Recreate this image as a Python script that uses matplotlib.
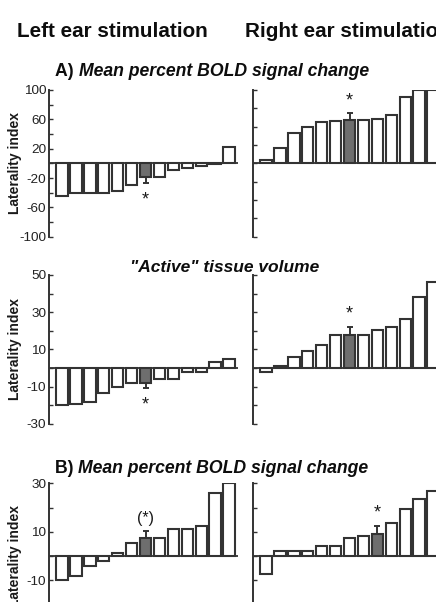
import matplotlib
matplotlib.use('Agg')
import matplotlib.pyplot as plt

plt.rcParams['font.family'] = ['Liberation Sans', 'DejaVu Sans']

# ---------------- data ----------------
subjects = list(range(1, 14))

# A) Mean percent BOLD signal change
a_left = [-45, -40, -40, -40, -38, -30, -19, -19, -9, -6, -4, -1, 22]
a_right = [5, 21, 42, 50, 56, 58, 59, 59, 60, 66, 91, 100, 100]
a_left_gray, a_right_gray = 6, 6
a_left_err, a_right_err = 8, 9
a_left_mark, a_right_mark = "*", "*"
a_ylim = (-100, 100)
a_ticklabels = [-100, -60, -20, 20, 60, 100]
a_minor = [-80, -40, 0, 40, 80]
a_right_ticks = [-100, -75, -50, -25, 0, 25, 50, 75, 100]

# "Active" tissue volume
v_left = [-20, -19, -18.2, -13.4, -10.2, -8, -8, -5.9, -5.9, -2.1, -2.1, 3.5, 5]
v_right = [-2.3, 1.2, 6, 9.3, 12.3, 18, 18, 18, 20.4, 22, 26.3, 38.4, 46]
v_left_gray, v_right_gray = 6, 6
v_left_err, v_right_err = 2.7, 4.3
v_left_mark, v_right_mark = "*", "*"
v_ylim = (-30, 50)
v_ticklabels = [-30, -10, 10, 30, 50]
v_minor = [-20, 0, 20, 40]
v_right_ticks = [-30, -20, -10, 0, 10, 20, 30, 40, 50]

# B) Mean percent BOLD signal change
b_left = [-9.8, -8.4, -4.3, -2.3, 1.1, 5.2, 7.2, 7.2, 11.3, 11.3, 12.2, 25.8, 30]
b_right = [-7.5, 1.9, 1.9, 1.9, 4.1, 4.1, 7.3, 8.1, 9.1, 13.4, 19.5, 23.6, 26.7]
b_left_gray, b_right_gray = 6, 8
b_left_err, b_right_err = 3, 3.4
b_left_mark, b_right_mark = "(*)", "*"
b_ylim = (-30, 30)
b_ticklabels = [-30, -10, 10, 30]
b_minor = [-20, 0, 20]
b_right_ticks = [-30, -20, -10, 0, 10, 20, 30]

header_left = "Left ear stimulation"
header_right = "Right ear stimulation"
ylabel = "Laterality index"

# ---------------- figure ----------------
W, H = 436, 602
fig = plt.figure(figsize=(W / 100, H / 100), dpi=100)

EDGE = '#333333'
GRAY = '#6e6e6e'


def px_axes(x0, x1, ytop, ybot):
    return fig.add_axes([x0 / W, 1 - ybot / H, (x1 - x0) / W, (ybot - ytop) / H])


def draw(ax, vals, gidx, err, mark, ylim, ticks, minor, labels):
    x = list(range(len(vals)))
    colors = [GRAY if i == gidx else 'white' for i in x]
    ax.bar(x, vals, width=0.83, color=colors, edgecolor=EDGE, linewidth=1.5, zorder=3)
    v = vals[gidx]
    sign = 1 if v >= 0 else -1
    yerr = [[0], [err]] if sign > 0 else [[err], [0]]
    ax.errorbar([gidx], [v], yerr=yerr, fmt='none', ecolor=EDGE, elinewidth=1.4,
                capsize=2.2, capthick=1.4, zorder=4)
    if mark == "*":
        off = 9 if sign > 0 else -12
        fs = 13
    else:
        off = 9
        fs = 11.5
    ax.annotate(mark, xy=(gidx, v + sign * err), xytext=(0, off),
                textcoords='offset points', ha='center', va='center',
                fontsize=fs, color='#1a1a1a', zorder=5)
    ax.axhline(0, color=EDGE, lw=1.3, zorder=2)
    ax.set_xlim(-0.92, 12.63)
    ax.set_ylim(*ylim)
    for s in ['top', 'right', 'bottom']:
        ax.spines[s].set_visible(False)
    ax.spines['left'].set_color(EDGE)
    ax.spines['left'].set_linewidth(1.4)
    ax.set_xticks([])
    ax.set_yticks(ticks)
    if labels:
        ax.set_yticklabels([str(t) for t in ticks])
        ax.set_yticks(minor, minor=True)
        ax.set_ylabel(ylabel, fontsize=10, fontweight='bold', color='#1a1a1a')
        ax.yaxis.set_label_coords(-0.143, 0.5)
    else:
        ax.set_yticklabels([])
    ax.tick_params(axis='y', which='both', direction='in', length=3, width=1.0,
                   color=EDGE, labelsize=9.7, labelcolor='#222222', pad=2)
    ax.patch.set_alpha(0)


rows = [
    (90, 236.7, a_left, a_right, a_left_gray, a_right_gray, a_left_err, a_right_err,
     a_left_mark, a_right_mark, a_ylim, a_ticklabels, a_minor, a_right_ticks),
    (275, 424, v_left, v_right, v_left_gray, v_right_gray, v_left_err, v_right_err,
     v_left_mark, v_right_mark, v_ylim, v_ticklabels, v_minor, v_right_ticks),
    (483.3, 628.5, b_left, b_right, b_left_gray, b_right_gray, b_left_err, b_right_err,
     b_left_mark, b_right_mark, b_ylim, b_ticklabels, b_minor, b_right_ticks),
]

for (yt, yb, L, R, gl, gr, el, er, ml, mr, yl, tl, mn, rt) in rows:
    axl = px_axes(49, 238, yt, yb)
    draw(axl, L, gl, el, ml, yl, tl, mn, True)
    axr = px_axes(253, 442, yt, yb)
    draw(axr, R, gr, er, mr, yl, rt, [], False)

# ---------------- texts ----------------
fig.text(17 / W, 1 - 36.7 / H, header_left, fontsize=14.9, fontweight='bold',
         ha='left', va='baseline', color='#0d0d0d')
fig.text(245 / W, 1 - 36.7 / H, header_right, fontsize=14.9, fontweight='bold',
         ha='left', va='baseline', color='#0d0d0d')


def title2(x, y, prefix, body):
    t1 = fig.text(x / W, 1 - y / H, prefix + " ", fontsize=12.7, fontweight='bold',
                  ha='left', va='baseline', color='#0d0d0d')
    fig.canvas.draw()
    bb = t1.get_window_extent()
    fig.text(bb.x1 / W, 1 - y / H, body, fontsize=12.7, fontweight='bold', style='italic',
             ha='left', va='baseline', color='#0d0d0d')


title2(55, 76, "A)", "Mean percent BOLD signal change")
fig.text(130 / W, 1 - 272 / H, '"Active" tissue volume', fontsize=12.5, fontweight='bold',
         style='italic', ha='left', va='baseline', color='#0d0d0d')
title2(55, 473, "B)", "Mean percent BOLD signal change")

fig.savefig('out.png', dpi=100)
